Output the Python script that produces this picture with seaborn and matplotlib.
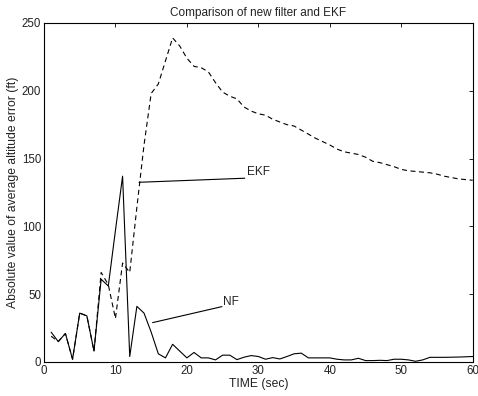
import numpy as np
import pandas as pd
import matplotlib
matplotlib.use("Agg")
import matplotlib.pyplot as plt
import seaborn as sns

# data (one sample per second)
time_sec = list(range(1, 61))
nf_error = [22, 15, 21, 2, 36, 34, 8, 61, 56, 97,
            137, 4, 41, 36, 22, 6, 3, 13, 8, 3,
            7, 3, 3, 1.5, 5, 5, 1.7, 3.5, 4.7, 4,
            2, 3.2, 2.2, 4, 6, 6.5, 3, 3, 3, 3,
            2, 1.5, 1.5, 2.7, 1, 1, 1.2, 1, 2, 2,
            1.5, 0.5, 1.5, 3.4, 3.4, 3.4, 3.5, 3.6, 3.8, 4]
ekf_error = [19, 15, 21, 2, 36, 34, 8, 66, 57, 32,
             73, 66, 114, 160, 198, 205, 222, 239, 233, 224,
             218, 217, 214, 206, 199, 196, 194, 188, 185, 183,
             182, 179, 177, 175, 174, 171, 168, 165, 162.5, 160,
             157, 155, 154, 153, 151, 148, 147, 145.5, 144, 142,
             141, 140.5, 140, 139.5, 138.5, 137, 136, 135, 134.5, 134]

x_ticks = [0, 10, 20, 30, 40, 50, 60]
y_ticks = [0, 50, 100, 150, 200, 250]

df = pd.DataFrame({
    "time": time_sec * 2,
    "error": nf_error + ekf_error,
    "filter": ["NF"] * len(time_sec) + ["EKF"] * len(time_sec),
})

sns.set_style("white")
plt.rcParams["font.family"] = ["Liberation Sans", "DejaVu Sans"]
plt.rcParams["font.size"] = 8

fig = plt.figure(figsize=(4.78, 3.96), dpi=100)
ax = fig.add_axes([0.092, 0.086, 0.897, 0.856])

sns.lineplot(data=df, x="time", y="error", style="filter",
             dashes={"NF": "", "EKF": (4.5, 3.2)},
             color="black", linewidth=0.8, legend=False, ax=ax)

# labels with leader lines, MATLAB style
ax.plot([13.3, 28.1], [132.5, 135.5], color="black", lw=0.8)
ax.text(28.4, 135.5, "EKF", fontsize=8.5, va="bottom", ha="left", color="#222222")
ax.plot([15.2, 24.9], [29, 40.8], color="black", lw=0.8)
ax.text(25.0, 39.5, "NF", fontsize=8.5, va="bottom", ha="left", color="#222222")

ax.set_xlim(0, 60)
ax.set_ylim(0, 250)
ax.set_xticks(x_ticks)
ax.set_yticks(y_ticks)
ax.tick_params(direction="in", length=3, width=0.6, top=True, right=True,
               labelsize=8.3, pad=2, colors="black", labelcolor="#222222")
for s in ax.spines.values():
    s.set_color("black")
    s.set_linewidth(0.8)

ax.set_xlabel("TIME (sec)", fontsize=8.7, labelpad=1, color="#222222")
ax.set_ylabel("Absolute value of average altitude error (ft)", fontsize=8.7,
              labelpad=2, color="#222222")
ax.set_title("Comparison of new filter and EKF", fontsize=8.5, pad=5, color="#222222")

fig.savefig("out.png", dpi=100)
